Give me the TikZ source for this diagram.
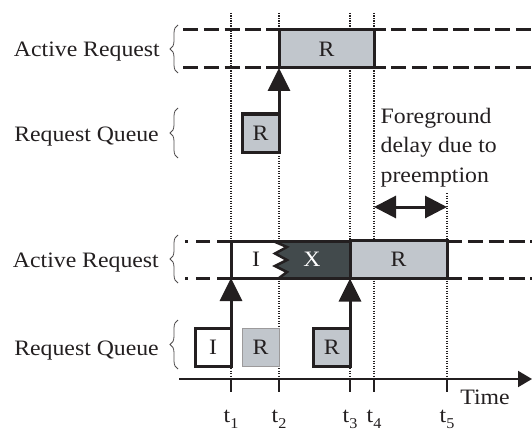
\documentclass[tikz,border=0pt]{standalone}
\usepackage{fontspec}
\setmainfont{Liberation Serif}[FakeStretch=1.08]
\usetikzlibrary{arrows.meta,decorations.pathreplacing}
\definecolor{reqgrey}{RGB}{193,198,204}
\definecolor{xdark}{RGB}{66,74,76}
\definecolor{ink}{RGB}{35,31,32}
\newcommand{\tsub}[1]{t\raisebox{-6pt}{\fontsize{15}{15}\selectfont #1}}
\begin{document}
\begin{tikzpicture}[x=1pt,y=-1pt,
  font=\fontsize{22}{26}\selectfont,
  every node/.style={text=ink},
  timeline/.style={line width=2.4pt, draw=ink, dash pattern=on 1.4pt off 1.1pt},
  rowline/.style={line width=3pt, draw=ink, dash pattern=on 15.3pt off 5.5pt},
  slot/.style={draw=ink, line width=3pt, inner sep=0pt, outer sep=0pt, minimum height=38pt},
  lbl/.style={anchor=base east, inner sep=0pt},
  rowbrace/.style={draw=ink!80, line width=0.8pt, decorate,
                   decoration={brace, amplitude=8pt}},
  push/.style={line width=3pt, draw=ink, -{Triangle[length=23pt,width=22pt]}},
  tick/.style={line width=1.5pt, draw=ink},
  tlabel/.style={anchor=base, inner sep=0pt}]
\useasboundingbox (0,0) rectangle (532,433);

% time instants
\foreach \x in {231,279,350,374} \draw[timeline] (\x,13) -- (\x,379);
\draw[timeline] (447,193) -- (447,379);

% row boundaries
\draw[rowline] (183,30) -- (532,30);
\draw[rowline] (183,68) -- (532,68);
\draw[line width=3pt, draw=ink, dash pattern=on 3pt off 8pt on 14pt off 7pt on 30pt] (185,241) -- (231,241);
\draw[line width=3pt, draw=ink, dash pattern=on 3pt off 8pt on 14pt off 7pt on 30pt] (185,278) -- (231,278);
\draw[rowline] (447,241) -- (532,241);
\draw[rowline] (447,278) -- (532,278);

% row labels and braces
\node[lbl] (lA1) at (160,57) {Active Request};
\node[lbl] (lQ1) at (159,141) {Request Queue};
\node[lbl] (lA2) at (159,267) {Active Request};
\node[lbl] (lQ2) at (159,355) {Request Queue};
\draw[rowbrace] (178,73) -- (178,25);
\draw[rowbrace] (178,158) -- (178,108);
\draw[rowbrace] (178,283) -- (178,235);
\draw[rowbrace] (178,369) -- (178,320);

% upper scenario
\node[slot, fill=reqgrey, minimum width=95pt] (aR1) at (326.5,49) {R};
\node[slot, fill=reqgrey, minimum width=37pt] (qR1) at (260.5,133) {R};
\draw[push] (qR1.north east) -- (aR1.south west);

% lower scenario: preempted I, X, then R
\coordinate (zt) at (273,241);
\coordinate (zb) at (279,278);
\fill[white] (231,241) -- (zt) -- (287,247) -- (275,253.5) -- (287,260) -- (275,266) -- (287,272) -- (zb) -- (231,278) -- cycle;
\fill[xdark] (zt) -- (350,241) -- (350,278) -- (zb) -- (287,272) -- (275,266) -- (287,260) -- (275,253.5) -- (287,247) -- cycle;
\node[slot, fill=reqgrey, minimum width=97pt] (aR2) at (398.5,259.5) {R};
\draw[line width=3pt, draw=ink, line join=miter] (350,241) -- (231,241) -- (231,278) -- (350,278);
\draw[line width=2.5pt, draw=ink, line join=miter] (zt) -- (287,247) -- (275,253.5) -- (287,260) -- (275,266) -- (287,272) -- (zb);
\coordinate (aI) at (231,278);
\node[inner sep=0pt] (tI) at (256,259.5) {I};
\node[inner sep=0pt, text=white] (tX) at (312,259.5) {X};

\node[slot, fill=white, minimum width=36pt] (qI) at (213,347) {I};
\node[draw=ink!45, line width=0.8pt, fill=reqgrey, inner sep=0pt, outer sep=0pt, minimum height=38pt, minimum width=37pt] (qR2) at (260.5,347) {R};
\node[slot, fill=reqgrey, minimum width=36.5pt] (qR3) at (331.75,347) {R};
\draw[push] (qI.north east) -- (aI);
\draw[push] (qR3.north east) -- (aR2.south west);

% foreground delay
\node[anchor=north west, align=left, inner sep=0pt, font=\fontsize{22}{29.5}\selectfont] (fd) at (380.5,108) {Foreground\\delay due to\\preemption};
\coordinate (d4) at (374,207);
\coordinate (d5) at (447,207);
\draw[line width=3pt, draw=ink, {Triangle[length=22pt,width=22pt]}-{Triangle[length=22pt,width=22pt]}] (d4) -- (d5);

% time axis
\coordinate (ax0) at (179,379);
\coordinate (ax1) at (532,379);
\draw[line width=2pt, draw=ink, -{Triangle[length=14pt,width=16pt]}] (ax0) -- (ax1);
\foreach \x in {231,279,350,374,447} \draw[tick] (\x,379) -- (\x,392);
\node[tlabel] (time) at (485,404) {Time};
\node[tlabel] (t1) at (231,422) {\tsub{1}};
\node[tlabel] (t2) at (279,422) {\tsub{2}};
\node[tlabel] (t3) at (350,422) {\tsub{3}};
\node[tlabel] (t4) at (374,422) {\tsub{4}};
\node[tlabel] (t5) at (447,422) {\tsub{5}};
\end{tikzpicture}
\end{document}
